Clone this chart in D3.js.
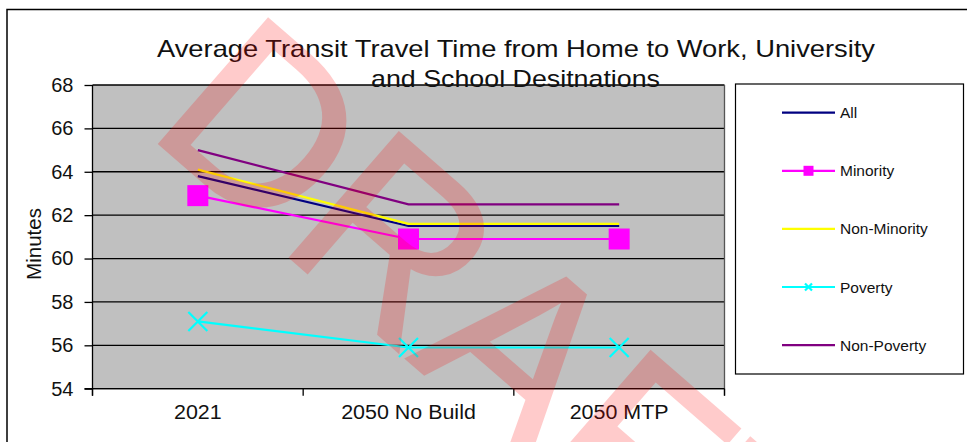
<!DOCTYPE html>
<html>
<head>
<meta charset="utf-8">
<script src="https://cdn.jsdelivr.net/npm/d3@7"></script>
<style>
  body { margin: 0; background: #fff; }
  text { font-family: "Liberation Sans", Arial, sans-serif; }
</style>
</head>
<body>
<div class="chart"></div>
<script>
// chart data
var categories = ["2021", "2050 No Build", "2050 MTP"];
var seriesNames = ["All", "Minority", "Non-Minority", "Poverty", "Non-Poverty"];
var allValues = [63.8, 61.5, 61.5];
var minorityValues = [62.9, 60.9, 60.9];
var nonMinorityValues = [64.1, 61.6, 61.6];
var povertyValues = [57.1, 55.9, 55.9];
var nonPovertyValues = [65.0, 62.5, 62.5];
var yTicks = [54, 56, 58, 60, 62, 64, 66, 68];
var titleLines = ["Average  Transit Travel Time from Home to Work, University", "and School Desitnations"];

var colors = ["#000080", "#FF00FF", "#FFFF00", "#00FFFF", "#800080"];
var markers = [null, "square", null, "x", null];
var valueLists = [allValues, minorityValues, nonMinorityValues, povertyValues, nonPovertyValues];

var series = seriesNames.map(function(name, i) {
  return { name: name, values: valueLists[i], color: colors[i], marker: markers[i] };
});

var svgWidth = 967;
var svgHeight = 442;
var plot = { left: 92.5, right: 724.5, top: 85, bottom: 388.7 };

var svg = d3.select(".chart")
  .append("svg")
  .attr("width", svgWidth)
  .attr("height", svgHeight)
  .style("display", "block");

// outer chart frame
svg.append("rect")
  .attr("x", 7).attr("y", 9.5)
  .attr("width", 1000).attr("height", 600)
  .attr("fill", "#fff")
  .attr("stroke", "#000")
  .attr("stroke-width", 1.5);

var xScale = d3.scaleBand()
  .domain(categories)
  .range([plot.left, plot.right])
  .padding(0);

var yScale = d3.scaleLinear()
  .domain([54, 68])
  .range([plot.bottom, plot.top]);

// plot background
svg.append("rect")
  .attr("x", plot.left).attr("y", plot.top)
  .attr("width", plot.right - plot.left)
  .attr("height", plot.bottom - plot.top)
  .attr("fill", "#C0C0C0");

// gridlines
svg.append("g")
  .selectAll("line")
  .data(yTicks)
  .enter().append("line")
  .attr("x1", plot.left).attr("x2", plot.right)
  .attr("y1", function(d) { return yScale(d); })
  .attr("y2", function(d) { return yScale(d); })
  .attr("stroke", "#000")
  .attr("stroke-width", 1.3);

// right border of plot
svg.append("line")
  .attr("x1", plot.right).attr("x2", plot.right)
  .attr("y1", plot.top).attr("y2", plot.bottom + 7)
  .attr("stroke", "#555").attr("stroke-width", 1.3);

// y axis
var leftAxis = d3.axisLeft(yScale)
  .tickValues(yTicks)
  .tickSize(8)
  .tickPadding(11);

var yAxisG = svg.append("g")
  .attr("transform", "translate(" + plot.left + ",0)")
  .call(leftAxis);
yAxisG.select(".domain").remove();
yAxisG.selectAll(".tick line").attr("stroke", "#000").attr("stroke-width", 1.3);
yAxisG.selectAll(".tick text")
  .attr("font-size", "20px")
  .attr("font-family", "Liberation Sans, Arial, sans-serif")
  .attr("fill", "#111");

svg.append("line")
  .attr("x1", plot.left).attr("x2", plot.left)
  .attr("y1", plot.top).attr("y2", plot.bottom + 7)
  .attr("stroke", "#000").attr("stroke-width", 1.3);

// x axis
svg.append("line")
  .attr("x1", plot.left - 8).attr("x2", plot.right)
  .attr("y1", plot.bottom).attr("y2", plot.bottom)
  .attr("stroke", "#000").attr("stroke-width", 1.3);

var tickEdges = categories.map(function(c) { return xScale(c); }).concat([plot.right]);
svg.append("g")
  .selectAll("line")
  .data(tickEdges)
  .enter().append("line")
  .attr("x1", function(d) { return d; }).attr("x2", function(d) { return d; })
  .attr("y1", plot.bottom).attr("y2", plot.bottom + 7)
  .attr("stroke", "#000").attr("stroke-width", 1.3);

var stretch = 1.1;
svg.append("g")
  .attr("transform", "scale(" + stretch + ",1)")
  .selectAll("text")
  .data(categories)
  .enter().append("text")
  .attr("x", function(d) { return (xScale(d) + xScale.bandwidth() / 2) / stretch; })
  .attr("y", 419)
  .attr("text-anchor", "middle")
  .attr("font-size", "19.5px")
  .attr("fill", "#111")
  .text(function(d) { return d; });

// y axis title
svg.append("text")
  .attr("transform", "translate(41,244) rotate(-90)")
  .attr("text-anchor", "middle")
  .attr("font-size", "20.5px")
  .attr("fill", "#111")
  .text("Minutes");

// title
var titleSpans = [[157, 875], [371, 660]];
svg.append("g")
  .selectAll("text")
  .data(titleLines)
  .enter().append("text")
  .attr("x", function(d, i) { return titleSpans[i][0]; })
  .attr("y", function(d, i) { return 56.7 + i * 30.6; })
  .attr("textLength", function(d, i) { return titleSpans[i][1] - titleSpans[i][0]; })
  .attr("lengthAdjust", "spacingAndGlyphs")
  .attr("font-size", "24px")
  .attr("fill", "#111")
  .text(function(d) { return d; });

// series lines
var line = d3.line()
  .x(function(d, i) { return xScale(categories[i]) + xScale.bandwidth() / 2; })
  .y(function(d) { return yScale(d); });

var seriesG = svg.append("g");
series.forEach(function(s) {
  seriesG.append("path")
    .datum(s.values)
    .attr("d", line)
    .attr("fill", "none")
    .attr("stroke", s.color)
    .attr("stroke-width", 2.2);
});

function drawMarker(g, type, cx, cy, size, color) {
  if (type === "square") {
    g.append("rect")
      .attr("x", cx - size / 2).attr("y", cy - size / 2)
      .attr("width", size).attr("height", size)
      .attr("fill", color);
  } else if (type === "x") {
    var h = size / 2;
    g.append("path")
      .attr("d", "M" + (cx - h) + "," + (cy - h) + "L" + (cx + h) + "," + (cy + h) +
                 "M" + (cx - h) + "," + (cy + h) + "L" + (cx + h) + "," + (cy - h))
      .attr("stroke", color)
      .attr("stroke-width", 2.2)
      .attr("fill", "none");
  }
}

series.forEach(function(s) {
  if (!s.marker) return;
  s.values.forEach(function(v, i) {
    drawMarker(seriesG, s.marker, xScale(categories[i]) + xScale.bandwidth() / 2, yScale(v),
      s.marker === "square" ? 21 : 19, s.color);
  });
});

// legend
var legend = svg.append("g");
legend.append("rect")
  .attr("x", 735.5).attr("y", 84)
  .attr("width", 228).attr("height", 290)
  .attr("fill", "#fff")
  .attr("stroke", "#000")
  .attr("stroke-width", 1.2);

series.forEach(function(s, i) {
  var ly = 112.7 + i * 58.1;
  legend.append("line")
    .attr("x1", 782).attr("x2", 835)
    .attr("y1", ly).attr("y2", ly)
    .attr("stroke", s.color)
    .attr("stroke-width", 2.2);
  if (s.marker) drawMarker(legend, s.marker, 808.5, ly, s.marker === "square" ? 10 : 7, s.color);
  legend.append("text")
    .attr("x", 840)
    .attr("y", ly + 5.5)
    .attr("font-size", "15.5px")
    .attr("fill", "#111")
    .text(s.name);
});

// DRAFT watermark
svg.append("g")
  .attr("opacity", 0.2)
  .append("text")
  .attr("transform", "translate(145,131) rotate(41)")
  .attr("font-size", "240px")
  .style("fill", "#FF0000")
  .style("stroke", "#FF0000")
  .style("stroke-width", "3px")
  .text("DRAFT");
</script>
</body>
</html>
